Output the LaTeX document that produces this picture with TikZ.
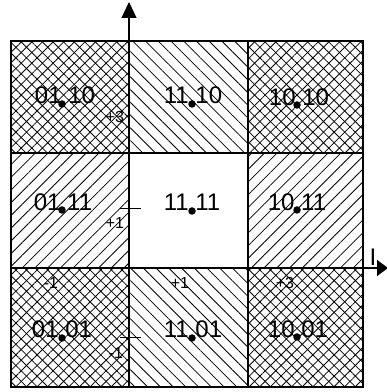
\documentclass[tikz,border=0pt]{standalone}
\usepackage{fontspec}
\setmainfont{Liberation Sans}
\usetikzlibrary{arrows.meta, patterns.meta}

\tikzset{
  cell/.style={draw=black, line width=1.1pt},
  crosscell/.style={cell, pattern={Lines[angle=-45, distance=7.5pt, line width=0.8pt]},
    preaction={pattern={Lines[angle=45, distance=7.5pt, line width=0.8pt]}}},
  nwcell/.style={cell, pattern={Lines[angle=-45, distance=9pt, line width=0.8pt]}},
  necell/.style={cell, pattern={Lines[angle=45, distance=9pt, line width=0.8pt]}},
  symb/.style={circle, fill=black, inner sep=0pt, minimum size=7.5pt},
  bits/.style={font=\fontsize{24}{26}\selectfont, inner sep=0pt, anchor=base},
  val/.style={font=\fontsize{16}{18}\selectfont, inner sep=0pt},
}

\begin{document}
\begin{tikzpicture}[x=1pt, y=1pt]
  \useasboundingbox (0,0) rectangle (387,392);
  % decision regions
  \path[crosscell] (11,239) rectangle (129,351);
  \path[nwcell]    (129,239) rectangle (248,351);
  \path[crosscell] (248,239) rectangle (363,351);
  \path[necell]    (11,124) rectangle (129,239);
  \path[cell]      (129,124) rectangle (248,239);
  \path[necell]    (248,124) rectangle (363,239);
  \path[crosscell] (11,5) rectangle (129,124);
  \path[nwcell]    (129,5) rectangle (248,124);
  \path[crosscell] (248,5) rectangle (363,124);
  % axes
  \coordinate (qbot) at (129,5);
  \coordinate (qtop) at (129,390);
  \coordinate (ileft) at (11,124);
  \coordinate (iright) at (388,124);
  \draw[line width=1.1pt, -{Triangle[length=16pt, width=15pt]}] (qbot) -- (qtop);
  \draw[line width=1.1pt, -{Triangle[length=11pt, width=16pt]}] (ileft) -- (iright);
  \node[font=\fontsize{24}{26}\selectfont, inner sep=0pt] (ilabel) at (373,135) {I};
  % ticks on Q
  \coordinate (qp1) at (129,183);
  \coordinate (qm1) at (129,54);
  \draw[line width=1pt] ([xshift=-9pt]qp1) -- ([xshift=12pt]qp1);
  \draw[line width=1pt] ([xshift=-9pt]qm1) -- ([xshift=12pt]qm1);
  \node[val] (q3) at (115,275) {+3};
  \node[val] (q1) at (115,169) {+1};
  \node[val] (qn1) at (116,39) {-1};
  \node[val] (in1) at (51,109) {-1};
  \node[val] (i1) at (180,109) {+1};
  \node[val] (i3) at (285,109) {+3};
  % symbols
  \node[symb] (s0110) at (62,288) {};
  \node[symb] (s1110) at (192,288) {};
  \node[symb] (s1010) at (297,287) {};
  \node[symb] (s0111) at (62,182) {};
  \node[symb] (s1111) at (192,181) {};
  \node[symb] (s1011) at (297,182) {};
  \node[symb] (s0101) at (62,54) {};
  \node[symb] (s1101) at (192,54) {};
  \node[symb] (s1001) at (297,55) {};
  \node[bits, xshift=3pt] at (s0110) {01 10};
  \node[bits, xshift=1pt] at (s1110) {11 10};
  \node[bits, xshift=2pt] at (s1010) {10 10};
  \node[bits, xshift=1pt] at (s0111) {01 11};
  \node[bits, xshift=0pt] at (s1111) {11 11};
  \node[bits, xshift=0pt] at (s1011) {10 11};
  \node[bits, xshift=0pt] at (s0101) {01 01};
  \node[bits, xshift=1pt] at (s1101) {11 01};
  \node[bits, xshift=1pt] at (s1001) {10 01};
\end{tikzpicture}
\end{document}
